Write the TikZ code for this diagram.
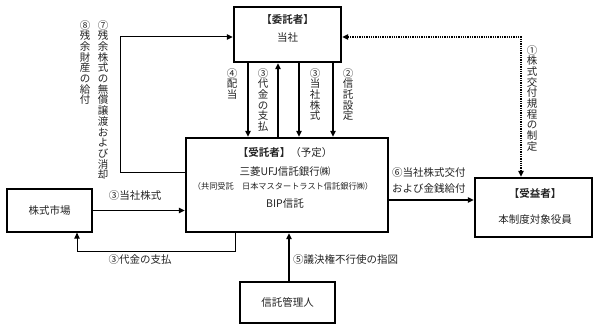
\documentclass[tikz,border=0pt]{standalone}
\usepackage{fontspec}
\setmainfont{Noto Sans CJK JP}[BoldFont={Noto Sans CJK JP Bold}]
\usetikzlibrary{arrows.meta, positioning}

\definecolor{JPInk}{RGB}{35,35,35}

% vertical (tategaki) label: one character per row
\newcommand{\tatetext}[1]{\vbox{\baselineskip=10.7pt\lineskiplimit=-20pt\tatestep#1\relax}}
\def\tatestep#1{\ifx\relax#1\else\hbox to 10.5pt{\hss#1\hss}\expandafter\tatestep\fi}

\begin{document}
\begin{tikzpicture}[x=1pt, y=-1pt,
    font=\fontsize{10.5}{13}\selectfont, text=JPInk,
    heavybox/.style={draw, line width=2.4pt, inner sep=0pt},
    lightbox/.style={draw, line width=1.3pt, inner sep=0pt},
    arr/.style={-{Triangle[length=6pt,width=5.5pt]}, line width=1.2pt},
    dotarr/.style={{Triangle[length=6pt,width=5.5pt]}-{Triangle[length=6pt,width=5.5pt]},
                   densely dotted, line width=1.3pt},
    lbl/.style={inner sep=0pt},
    tate/.style={inner sep=0pt, anchor=north}
  ]
    \useasboundingbox (0,0) rectangle (600,331);

    % Settlor
    \node[heavybox, minimum width=107pt, minimum height=55pt] (settlor) at (287.5,34.5) {};
    \node[lbl] (settlorA) at (287.5,20) {\textbf{【委託者】}};
    \node[lbl] (settlorB) at (287.5,38) {当社};

    % Trustee
    \node[heavybox, minimum width=202pt, minimum height=94pt] (trust) at (287,185) {};
    \node[lbl] (trustA) at (285,153) {\textbf{【受託者】}（予定）};
    \node[lbl] (trustB) at (285,172) {三菱UFJ信託銀行㈱};
    \node[lbl, font=\fontsize{8.2}{9}\selectfont] (trustC) at (283,186)
      {（共同受託　日本マスタートラスト信託銀行㈱）};
    \node[lbl] (trustD) at (285,204) {BIP信託};

    % Beneficiary
    \node[heavybox, minimum width=117pt, minimum height=59pt] (benef) at (533.5,207.5) {};
    \node[lbl] (benefA) at (535,193) {\textbf{【受益者】}};
    \node[lbl] (benefB) at (535,220) {本制度対象役員};

    % Market and trust administrator
    \node[lightbox, minimum width=85pt, minimum height=43pt] (market) at (49.5,210.5) {株式市場};
    \node[lightbox, minimum width=95pt, minimum height=41pt] (admin) at (287.5,302.5) {信託管理人};

    % Settlor <-> trustee
    \draw[arr] ([xshift=-39.5pt]settlor.south) -- ([xshift=-39.5pt]settlor.south |- trust.north);
    \draw[arr] ([xshift=-9.5pt]settlor.south |- trust.north) -- ([xshift=-9.5pt]settlor.south);
    \draw[arr] ([xshift=11.5pt]settlor.south) -- ([xshift=11.5pt]settlor.south |- trust.north);
    \draw[arr] ([xshift=45.5pt]settlor.south) -- ([xshift=45.5pt]settlor.south |- trust.north);
    \node[tate] (lbl4) at (232,68) {\tatetext{④配当}};
    \node[tate] (lbl3a) at (263,68) {\tatetext{③代金の支払}};
    \node[tate] (lbl3b) at (315,68) {\tatetext{③当社株式}};
    \node[tate] (lbl2) at (348,68) {\tatetext{②信託設定}};

    % Return loop to settlor
    \draw[arr, line width=1pt] ([yshift=12pt]trust.west) -- ++(-64,0) |- ([yshift=-2.5pt]settlor.west);
    \node[tate] (lbl7) at (103,20) {\tatetext{⑦残余株式の無償譲渡および消却}};
    \node[tate] (lbl8) at (85,20) {\tatetext{⑧残余財産の給付}};

    % Settlor <-> beneficiary
    \draw[dotarr] ([yshift=-2.5pt]settlor.east) -| ([xshift=-12.5pt]benef.north);
    \node[tate] (lbl1) at (532,45) {\tatetext{①株式交付規程の制定}};

    % Market <-> trustee
    \draw[arr] (market.east) -- (market.east -| trust.west);
    \node[lbl] (lbl3c) at (135,196) {③当社株式};
    \draw[arr, line width=1pt] ([xshift=-52pt]trust.south) -- ++(0,18) -| ([xshift=27.5pt]market.south);
    \node[lbl] (lbl3d) at (140,260) {③代金の支払};

    % Trustee -> beneficiary
    \draw[arr] ([yshift=-15pt]trust.east) -- ([yshift=-15pt]trust.east -| benef.west);
    \node[lbl, align=left, font=\fontsize{10.5}{16}\selectfont, anchor=west] (lbl6) at (392,180)
      {⑥当社株式交付\\および金銭給付};

    % Administrator -> trustee
    \draw[arr] ([xshift=1.5pt]admin.north) -- ([xshift=1.5pt]admin.north |- trust.south);
    \node[lbl, anchor=west] (lbl5) at (293,260) {⑤議決権不行使の指図};
\end{tikzpicture}
\end{document}
